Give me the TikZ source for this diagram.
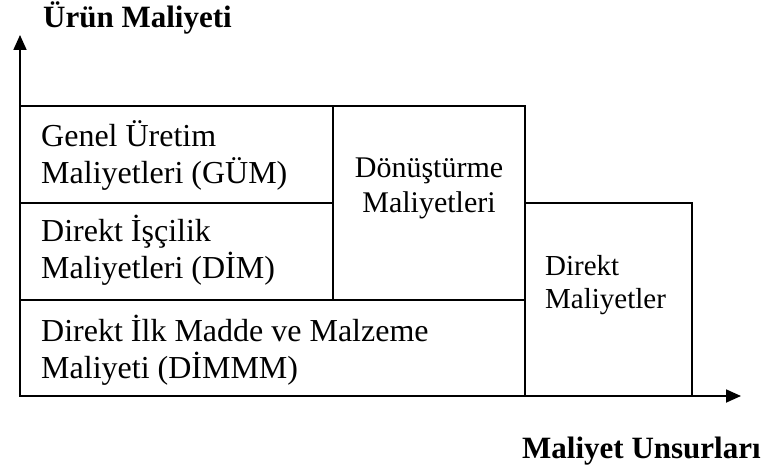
\documentclass[tikz,border=0pt]{standalone}
\usepackage{fontspec}
\setmainfont{Liberation Serif}
\usetikzlibrary{arrows.meta}
\begin{document}
\begin{tikzpicture}[x=1pt,y=-1pt,
  box/.style={draw,line width=1.6pt,anchor=north west,inner sep=0pt,outer sep=0pt},
  axis/.style={line width=1.8pt,-{Triangle[length=15pt,width=13pt]}},
  lbl/.style={anchor=base west,align=left,inner sep=0pt,font=\fontsize{32}{37}\selectfont},
  clbl/.style={anchor=base,align=center,inner sep=0pt,font=\fontsize{30}{35}\selectfont},
  dlbl/.style={anchor=base west,align=left,inner sep=0pt,font=\fontsize{29}{33}\selectfont},
  title/.style={anchor=base west,inner sep=0pt,font=\bfseries\fontsize{31}{36}\selectfont}]
\useasboundingbox (0,0) rectangle (770,473);

% cost blocks
\node[box,minimum width=313pt,minimum height=97pt] (gum) at (20,106) {};
\node[box,minimum width=313pt,minimum height=97pt] (dim) at (20,203) {};
\node[box,minimum width=192pt,minimum height=194pt] (donus) at (333,106) {};
\node[box,minimum width=505pt,minimum height=96pt] (dimmm) at (20,300) {};
\node[box,minimum width=167pt,minimum height=193pt] (direkt) at (525,203) {};

% block texts (anchored on the baseline of their last line)
\node[lbl] (tgum) at (41,183) {Genel Üretim\\Maliyetleri (GÜM)};
\node[lbl] (tdim) at (41,278) {Direkt İşçilik\\Maliyetleri (DİM)};
\node[lbl] (tdimmm) at (41,378) {Direkt İlk Madde ve Malzeme\\Maliyeti (DİMMM)};
\node[clbl] (tdonus) at (429,212) {Dönüştürme\\Maliyetleri};
\node[dlbl] (tdirekt) at (545,308) {Direkt\\Maliyetler};

% axes
\coordinate (o) at (20,396);
\coordinate (ytip) at (20,35);
\coordinate (xtip) at (741,396);
\draw[axis] (o) -- (ytip);
\draw[axis] (o) -- (xtip);

% axis titles
\node[title] (ylab) at (43,28) {Ürün Maliyeti};
\node[title] (xlab) at (522,458) {Maliyet Unsurları};
\end{tikzpicture}
\end{document}
